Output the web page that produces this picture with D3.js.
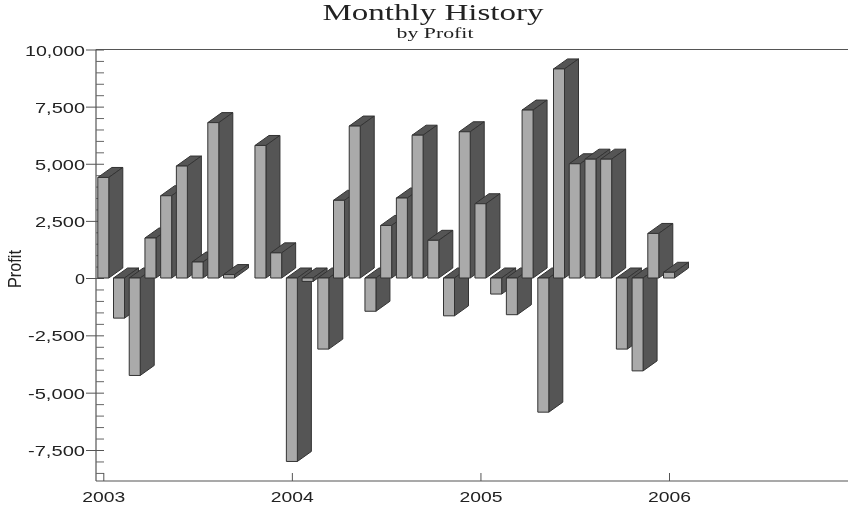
<!DOCTYPE html>
<html><head><meta charset="utf-8">
<script src="https://cdn.jsdelivr.net/npm/d3@7/dist/d3.min.js"></script>
<style>html,body{margin:0;padding:0;background:#fff}svg{display:block;filter:blur(0.35px)}</style>
</head><body><svg id="c" width="848" height="506"></svg>
<script>
const titleText = "Monthly History";
const subtitleText = "by Profit";
const yLabel = "Profit";
const startYear = 2003;
const yearTicks = [0, 12, 24, 36];
const yTickValues = [10000, 7500, 5000, 2500, 0, -2500, -5000, -7500];
const profit = [
  4400, -1750, -4250, 1750, 3600, 4900, 700, 6800, 150, null, 5800, 1100,
  -8000, -150, -3100, 3400, 6650, -1450, 2300, 3500, 6250, 1650, -1650, 6400,
  3250, -700, -1600, 7350, -5850, 9150, 5000, 5200, 5200, -3100, -4050, 1950,
  250
];

const svg = d3.select("#c");
const x = d3.scaleLinear().domain([0, 47.39]).range([103.3, 848]);
const y = d3.scaleLinear().domain([10000, 0, -7500]).range([49.5, 278, 450]);
const yBottom = 481, xLeft = 96;
const barW = 11, depthX = 14, depthY = 10;
const dark = "#555555", light = "#aaaaaa", edge = "#333333";
const fmt = v => d3.format(",")(v).replace("\u2212", "-");

// frame
svg.append("line").attr("x1", xLeft).attr("x2", 848).attr("y1", 49.5).attr("y2", 49.5).attr("stroke", "#555").attr("stroke-width", 1.2);
svg.append("line").attr("x1", xLeft).attr("x2", 848).attr("y1", yBottom).attr("y2", yBottom).attr("stroke", "#555").attr("stroke-width", 1.2);
svg.append("line").attr("x1", xLeft).attr("x2", xLeft).attr("y1", 49.5).attr("y2", yBottom).attr("stroke", "#555").attr("stroke-width", 1.2);

// minor y ticks
const minor = d3.range(-8500, 10000, 500).filter(v => !yTickValues.includes(v));
svg.append("g").attr("transform", `translate(${xLeft},0)`)
  .call(d3.axisRight(y).tickValues(minor).tickSize(8).tickFormat(""))
  .call(g => g.select(".domain").remove())
  .call(g => g.selectAll("line").attr("stroke", "#666").attr("stroke-width", 1));

// major y ticks
const gy = svg.append("g").attr("transform", `translate(${xLeft},0)`)
  .call(d3.axisLeft(y).tickValues(yTickValues).tickSize(0).tickFormat(fmt));
gy.select(".domain").remove();
gy.selectAll(".tick").append("line").attr("x1", -10).attr("x2", 8).attr("stroke", "#555").attr("stroke-width", 1);
gy.selectAll(".tick line").filter(function(){ return !this.getAttribute("x1"); }).remove();
gy.selectAll("text").attr("x", -11).attr("dy", "0.36em").attr("fill", "#222")
  .attr("font-family", "Liberation Sans").attr("font-size", 15.5)
  .each(function(d){
    const w = d >= 10000 ? 60 : (d < 0 ? 57 : (d === 0 ? 10 : 50));
    d3.select(this).attr("textLength", w).attr("lengthAdjust", "spacingAndGlyphs");
  });

// x ticks
const gx = svg.append("g").attr("transform", `translate(0,${yBottom})`)
  .call(d3.axisBottom(x).tickValues(yearTicks).tickSize(0).tickFormat(i => String(startYear + i / 12)));
gx.select(".domain").remove();
gx.selectAll(".tick").append("line").attr("y1", -8).attr("y2", 0).attr("stroke", "#555");
gx.selectAll("text").attr("y", 10).attr("dy", "0.71em").attr("fill", "#222")
  .attr("font-family", "Liberation Sans").attr("font-size", 15.5)
  .attr("textLength", 43).attr("lengthAdjust", "spacingAndGlyphs");

// bars, drawn left to right so each covers its neighbour's side
const bars = svg.append("g").selectAll("g")
  .data(profit.map((v, i) => ({v, i})).filter(d => d.v !== null))
  .join("g")
  .attr("stroke", edge).attr("stroke-width", 1).attr("stroke-linejoin", "round");

const yTop = d => Math.min(y(d.v), y(0));
const yBot = d => Math.max(y(d.v), y(0));
const xL = d => x(d.i) - barW / 2;

bars.append("path").attr("fill", dark).attr("d", d => {
  const l = xL(d), r = l + barW, t = yTop(d);
  return `M${l},${t}L${l + depthX},${t - depthY}L${r + depthX},${t - depthY}L${r},${t}Z`;
});
bars.append("path").attr("fill", dark).attr("d", d => {
  const r = xL(d) + barW, t = yTop(d), b = yBot(d);
  return `M${r},${t}L${r + depthX},${t - depthY}L${r + depthX},${b - depthY}L${r},${b}Z`;
});
bars.append("rect").attr("fill", light)
  .attr("x", xL).attr("y", yTop).attr("width", barW).attr("height", d => yBot(d) - yTop(d));

// titles
svg.append("text").attr("x", 433).attr("y", 20).attr("text-anchor", "middle")
  .attr("font-family", "Liberation Serif").attr("font-size", 23).attr("fill", "#222")
  .attr("textLength", 221).attr("lengthAdjust", "spacingAndGlyphs").text(titleText);
svg.append("text").attr("x", 435).attr("y", 38).attr("text-anchor", "middle")
  .attr("font-family", "Liberation Serif").attr("font-size", 15).attr("fill", "#222")
  .attr("textLength", 77).attr("lengthAdjust", "spacingAndGlyphs").text(subtitleText);
svg.append("text").attr("transform", "translate(21,269) rotate(-90)").attr("text-anchor", "middle")
  .attr("font-family", "Liberation Sans").attr("font-size", 19).attr("fill", "#222")
  .attr("textLength", 38).attr("lengthAdjust", "spacingAndGlyphs").text(yLabel);
</script></body></html>
